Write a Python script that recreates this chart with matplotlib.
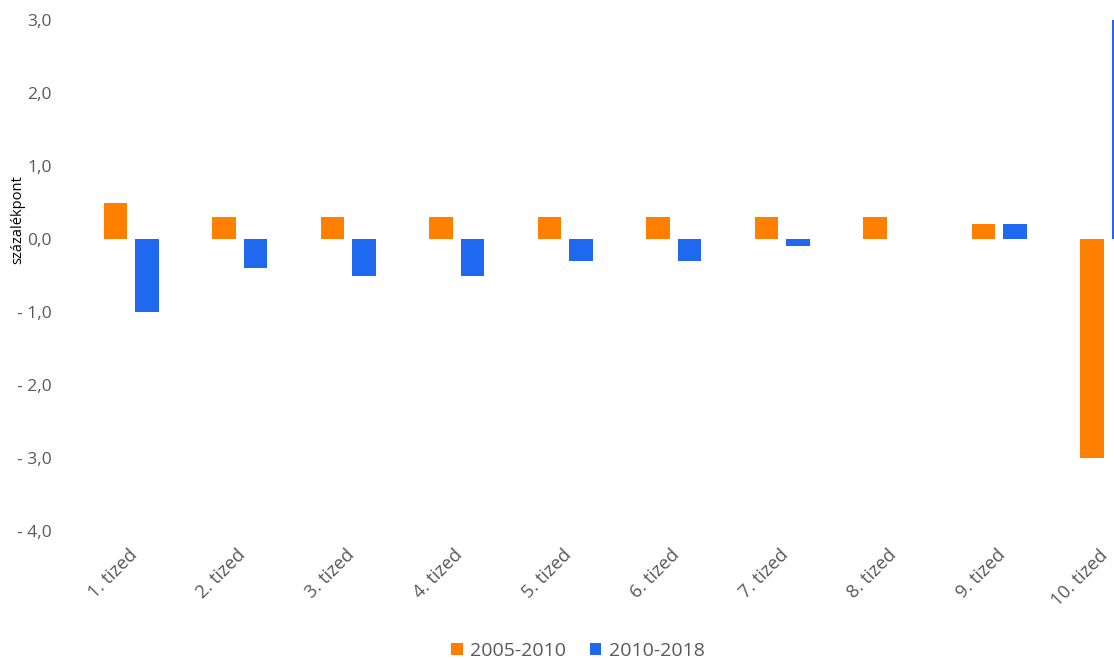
import matplotlib
matplotlib.use("Agg")
import matplotlib.pyplot as plt
import matplotlib.transforms as mtransforms
import numpy as np
from matplotlib.patches import Patch

categories = ["1. tized", "2. tized", "3. tized", "4. tized", "5. tized",
              "6. tized", "7. tized", "8. tized", "9. tized", "10. tized"]
s2005_2010 = [0.5, 0.3, 0.3, 0.3, 0.3, 0.3, 0.3, 0.3, 0.2, -3.0]
s2010_2018 = [-1.0, -0.4, -0.5, -0.5, -0.3, -0.3, -0.1, 0.0, 0.2, 3.0]
series_names = ["2005-2010", "2010-2018"]
yticks = [3, 2, 1, 0, -1, -2, -3, -4]

plt.rcParams['font.family'] = ['Open Sans', 'DejaVu Sans']
orange = '#FF7F00'
blue = '#1E69F0'
grey = '#595959'

fig = plt.figure(figsize=(11.14, 6.59), dpi=100)
W, H = 1114, 659
left_px, right_px = 77, 1162
top_px, bot_px = 20, 531
ax = fig.add_axes([left_px / W, 1 - bot_px / H, (right_px - left_px) / W, (bot_px - top_px) / H])

x = np.arange(len(categories))
w = 0.22
off = 0.145
ax.bar(x - off, s2005_2010, width=w, color=orange, linewidth=0)
ax.bar(x + off, s2010_2018, width=w, color=blue, linewidth=0)

ax.set_xlim(-0.5, len(categories) - 0.5)
ax.set_ylim(-4, 3)
for s in ax.spines.values():
    s.set_visible(False)

def fmt(v):
    s = f"{abs(v):.1f}".replace('.', ',')
    return ("- " + s) if v < 0 else s

ax.set_yticks(yticks)
ax.set_yticklabels([fmt(v) for v in yticks], color=grey, fontsize=12.5)
ax.tick_params(axis='y', length=0, pad=18)
ax.set_xticks(x)
ax.set_xticklabels(categories, rotation=45, ha='right', va='top',
                   rotation_mode='anchor', color=grey, fontsize=13.2)
ax.tick_params(axis='x', length=0, pad=11)
labels = ax.get_xticklabels()
for i, lbl in enumerate(labels):
    dx = -3 if i < len(labels) - 1 else -9
    shift = mtransforms.ScaledTranslation(dx / 100, 0, fig.dpi_scale_trans)
    lbl.set_transform(lbl.get_transform() + shift)

fig.text(18 / W, 1 - 220 / H, "százalékpont", rotation=90, ha='center', va='center',
         fontsize=10.5, color='black')

handles = [Patch(facecolor=orange, edgecolor='none'), Patch(facecolor=blue, edgecolor='none')]
fig.legend(handles, series_names, loc='center', bbox_to_anchor=(578 / W, 1 - 651 / H),
           ncol=2, frameon=False, fontsize=14, handlelength=0.6, handleheight=0.6,
           handletextpad=0.4, columnspacing=1.2, labelcolor=grey)

fig.savefig("out.png", dpi=100)
